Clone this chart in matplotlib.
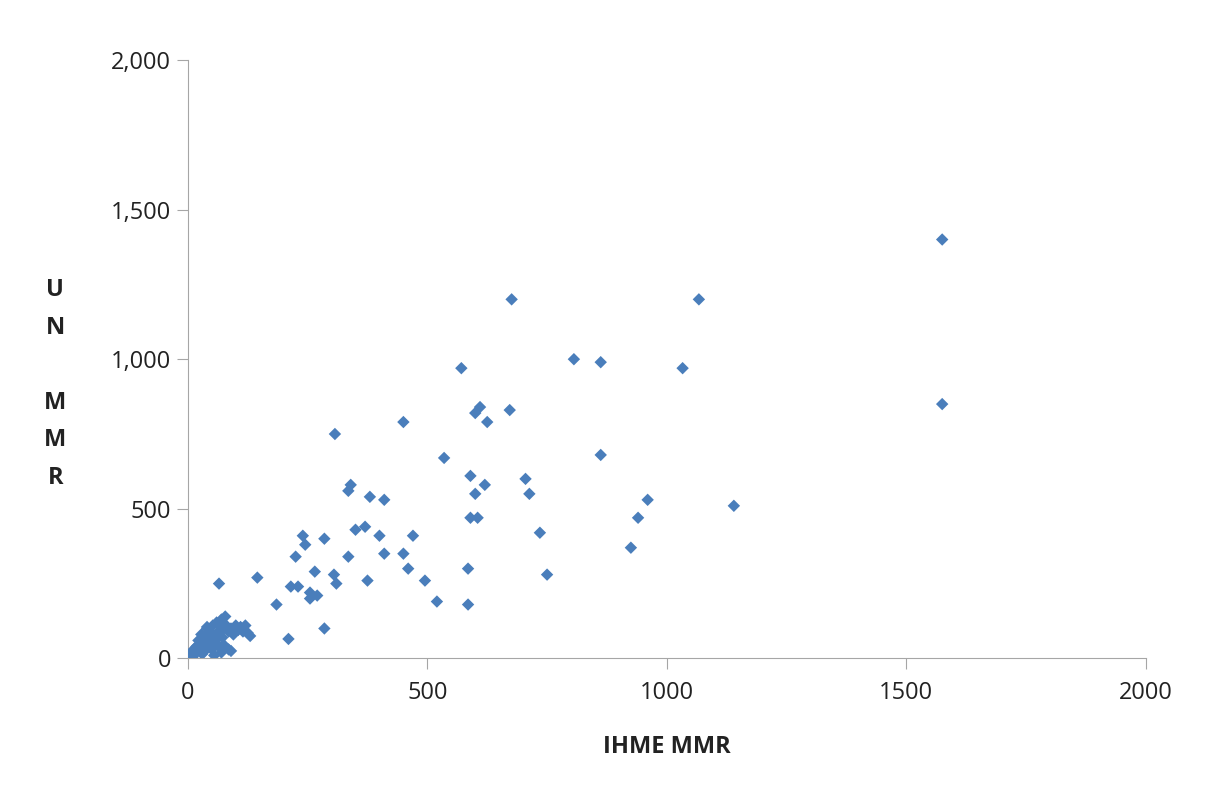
import matplotlib.pyplot as plt
from matplotlib.ticker import FuncFormatter

plt.rcParams['font.family'] = ['Open Sans', 'DejaVu Sans']

# IHME MMR vs UN MMR
ihme = [1575, 1575, 676, 1067, 806, 862, 1033, 571, 450, 307, 672, 600, 610, 625,
        535, 862, 590, 705, 713, 600, 620, 335, 340, 380, 410, 960, 1140, 940, 590,
        605, 735, 925, 370, 350, 400, 470, 240, 245, 285, 225, 335, 410, 450, 585,
        460, 750, 265, 305, 495, 375, 310, 145, 65, 230, 215, 255, 270, 255, 520,
        585, 185, 285, 210,
        # dense cluster near the origin
        5, 8, 10, 12, 15, 18, 20, 22, 25, 28, 30, 32, 35, 38, 40, 42, 45, 48, 50,
        52, 55, 58, 60, 62, 65, 68, 70, 72, 75, 78, 80, 85, 90, 95, 100, 105, 110,
        115, 120, 125, 130, 40, 55, 70, 85, 30, 45, 60, 75, 90]
un = [1400, 850, 1200, 1200, 1000, 990, 970, 970, 790, 750, 830, 820, 840, 790,
      670, 680, 610, 600, 550, 550, 580, 560, 580, 540, 530, 530, 510, 470, 470,
      470, 420, 370, 440, 430, 410, 410, 410, 380, 400, 340, 340, 350, 350, 300,
      300, 280, 290, 280, 260, 260, 250, 270, 250, 240, 240, 220, 210, 200, 190,
      180, 180, 100, 65,
      10, 20, 5, 30, 15, 40, 25, 60, 35, 80, 45, 20, 70, 55, 100, 40, 90, 60, 30,
      110, 75, 50, 120, 85, 40, 95, 130, 70, 100, 140, 110, 90, 100, 80, 110, 95,
      105, 90, 110, 85, 75, 105, 10, 20, 30, 15, 50, 65, 45, 25]

fig = plt.figure(figsize=(12.28, 8.0), dpi=100)
ax = fig.add_axes([0.153, 0.177, 0.78, 0.748])
ax.scatter(ihme, un, marker='D', s=40, color='#4a7ebb', edgecolors='none', zorder=3)

ax.set_xlim(0, 2000)
ax.set_ylim(0, 2000)
ax.set_xticks([0, 500, 1000, 1500, 2000])
ax.set_yticks([0, 500, 1000, 1500, 2000])
ax.yaxis.set_major_formatter(FuncFormatter(lambda v, p: f'{int(v):,}'))
for s in ['top', 'right']:
    ax.spines[s].set_visible(False)
for s in ['left', 'bottom']:
    ax.spines[s].set_color('#a6a6a6')
ax.tick_params(colors='#a6a6a6', labelcolor='#222222', labelsize=17, length=8, direction='out')
ax.tick_params(axis='y', pad=4)
ax.tick_params(axis='x', pad=8)

ax.set_xlabel('IHME MMR', fontsize=17, fontweight='bold', labelpad=22, color='#222222')
fig.text(0.045, 0.52, 'U\nN\n\nM\nM\nR', fontsize=17, fontweight='bold',
         ha='center', va='center', linespacing=1.75, color='#222222')

fig.savefig('out.png', dpi=100)
